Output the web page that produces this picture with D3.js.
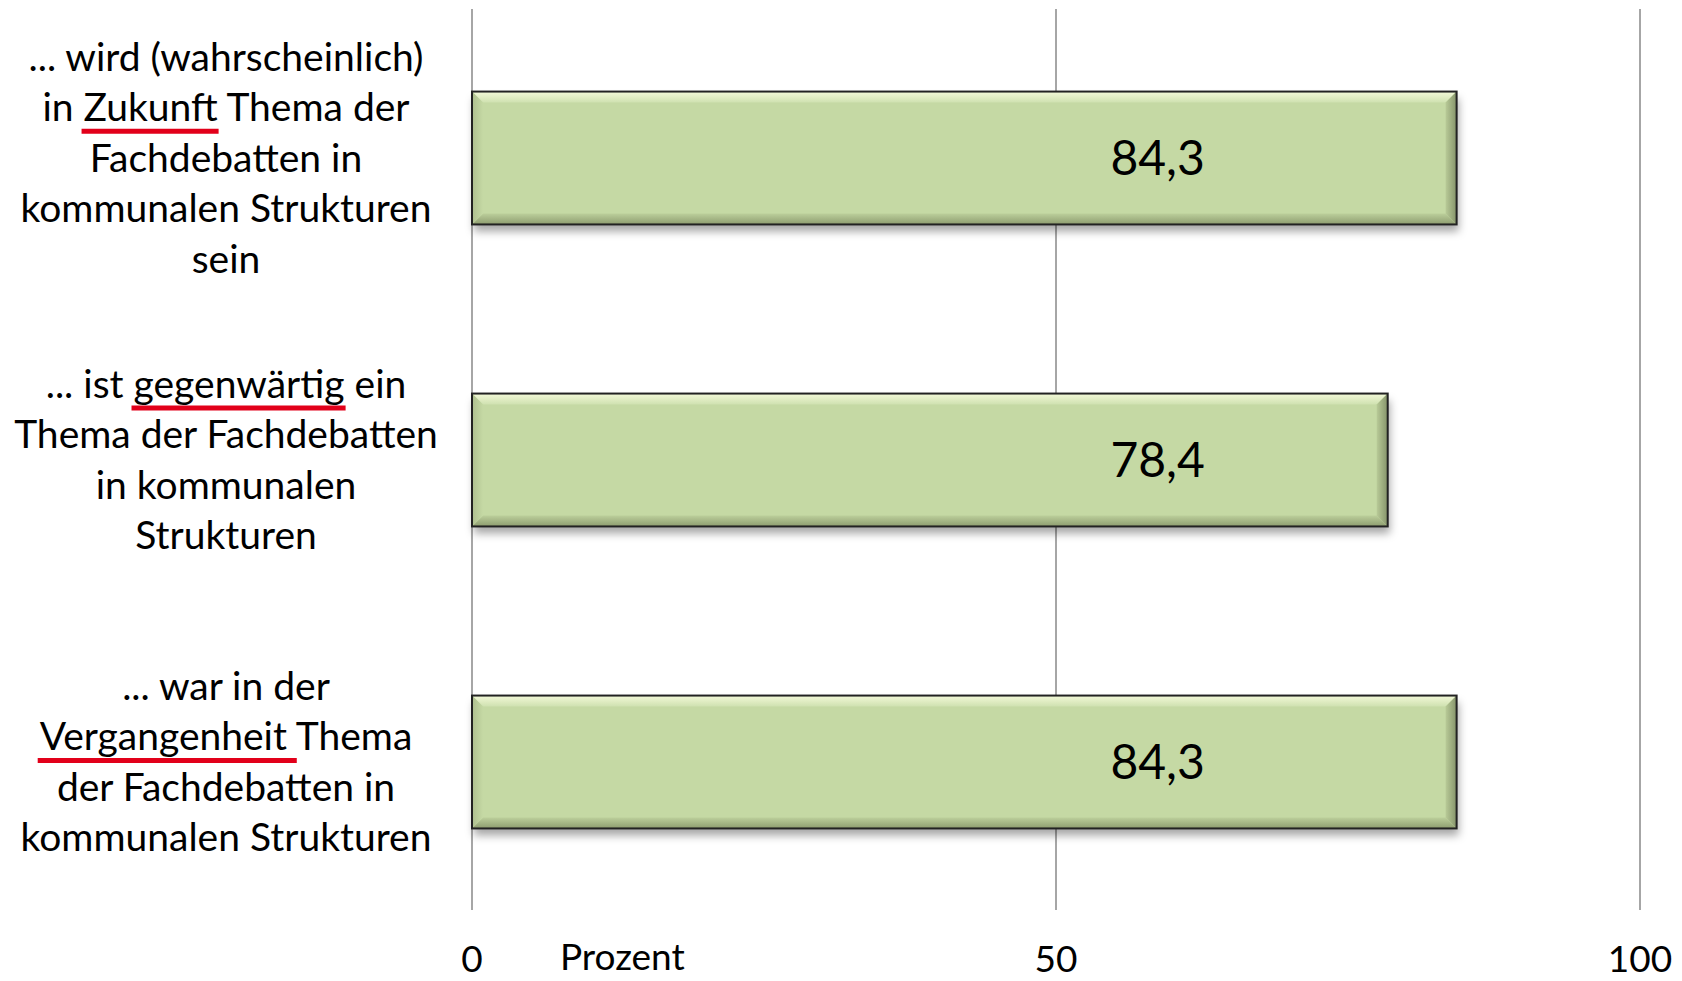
<!DOCTYPE html>
<html>
<head>
<meta charset="utf-8">
<script src="https://cdn.jsdelivr.net/npm/d3@7"></script>
<style>
  html, body { margin: 0; padding: 0; background: #ffffff; }
  svg { display: block; }
  text { font-family: Lato, "Open Sans", sans-serif; fill: #000; }
</style>
</head>
<body>
<svg id="chart" width="1682" height="981"></svg>
<script>
// ---- data ----
const categories = ["future", "present", "past"];
const categoryLines = [
  ["... wird (wahrscheinlich)", "in Zukunft Thema der", "Fachdebatten in", "kommunalen Strukturen", "sein"],
  ["... ist gegenwärtig ein", "Thema der Fachdebatten", "in kommunalen", "Strukturen"],
  ["... war in der", "Vergangenheit Thema", "der Fachdebatten in", "kommunalen Strukturen"]
];
const emphasis = [
  { line: 1, word: "Zukunft" },
  { line: 0, word: "gegenwärtig" },
  { line: 1, word: "Vergangenheit " }
];
const values = [84.3, 78.4, 84.3];
const valueLabels = ["84,3", "78,4", "84,3"];
const tickValues = [0, 50, 100];
const tickLabels = ["0", "50", "100"];
const axisTitle = "Prozent";

// ---- layout ----
const svg = d3.select("#chart");
const x = d3.scaleLinear().domain([0, 100]).range([472, 1640]);
const y = d3.scaleBand().domain(categories).range([7, 913]).paddingInner(0.56).paddingOuter(0.28);

const defs = svg.append("defs");
function lg(id, x1, y1, x2, y2, stops) {
  const g = defs.append("linearGradient").attr("id", id)
    .attr("x1", x1).attr("y1", y1).attr("x2", x2).attr("y2", y2);
  stops.forEach(s => g.append("stop").attr("offset", s[0]).attr("stop-color", s[1]));
}
lg("bvTop", 0, 0, 0, 1, [[0, "#f3f9d8"], [1, "#cfe1b0"]]);
lg("bvBot", 0, 0, 0, 1, [[0, "#bccf9b"], [1, "#8d9c6f"]]);
lg("bvRight", 0, 0, 1, 0, [[0, "#b8ca97"], [1, "#85936a"]]);
lg("bvLeft", 0, 0, 1, 0, [[0, "#aebf8f"], [1, "#c5d9a4"]]);
const sh = defs.append("filter").attr("id", "shadow")
  .attr("x", "-5%").attr("y", "-20%").attr("width", "110%").attr("height", "150%");
sh.append("feDropShadow").attr("dx", 2).attr("dy", 7).attr("stdDeviation", 4)
  .attr("flood-color", "#000").attr("flood-opacity", 0.35);

// gridlines
svg.append("g").selectAll("line").data(tickValues).join("line")
  .attr("x1", d => x(d)).attr("x2", d => x(d))
  .attr("y1", 9).attr("y2", 910)
  .attr("stroke", "#a6a6a6").attr("stroke-width", 1.2)
  .attr("shape-rendering", "crispEdges");

// bars
const bevel = 11;
const bars = svg.append("g").selectAll("g").data(categories).join("g");
bars.each(function(c, i) {
  const g = d3.select(this);
  const x0 = x(0), x1 = x(values[i]);
  const y0 = y(c), y1 = y(c) + y.bandwidth();
  g.append("rect").attr("x", x0).attr("y", y0).attr("width", x1 - x0).attr("height", y1 - y0)
    .attr("fill", "#c5d9a4").attr("filter", "url(#shadow)");
  const b = bevel;
  const poly = (pts, fill) => g.append("polygon").attr("points", pts.map(p => p.join(",")).join(" ")).attr("fill", fill);
  poly([[x0, y0], [x1, y0], [x1 - b, y0 + b], [x0 + b, y0 + b]], "url(#bvTop)");
  poly([[x0 + b, y1 - b], [x1 - b, y1 - b], [x1, y1], [x0, y1]], "url(#bvBot)");
  poly([[x1 - b, y0 + b], [x1, y0], [x1, y1], [x1 - b, y1 - b]], "url(#bvRight)");
  poly([[x0, y0], [x0 + b, y0 + b], [x0 + b, y1 - b], [x0, y1]], "url(#bvLeft)");
  g.append("rect").attr("x", x0).attr("y", y0).attr("width", x1 - x0).attr("height", y1 - y0)
    .attr("fill", "none").attr("stroke", "#222").attr("stroke-width", 2);
});

// value labels
svg.append("g").selectAll("text").data(categories).join("text")
  .attr("x", x(58.7))
  .attr("y", c => y(c) + y.bandwidth() / 2)
  .attr("dy", "0.36em")
  .attr("text-anchor", "middle")
  .style("font-size", "48px")
  .text((c, i) => valueLabels[i]);

// category labels
const lineH = 50.5;
const labelX = 226;
const fs = 39;
const catG = svg.append("g");
categories.forEach((c, i) => {
  const lines = categoryLines[i];
  const cy = y(c) + y.bandwidth() / 2;
  lines.forEach((ln, j) => {
    const ly = cy + (j - (lines.length - 1) / 2) * lineH;
    const t = catG.append("text")
      .attr("x", labelX)
      .attr("y", ly)
      .attr("dy", "0.35em")
      .attr("text-anchor", "middle")
      .style("font-size", fs + "px")
      .text(ln);
    const em = emphasis[i];
    if (em.line === j) {
      const node = t.node();
      const idx = ln.indexOf(em.word);
      const sx = node.getStartPositionOfChar(idx).x;
      const ex = node.getEndPositionOfChar(idx + em.word.length - 1).x;
      const by = ly + 0.35 * fs;
      catG.append("line")
        .attr("x1", sx - 2).attr("x2", ex + 1)
        .attr("y1", by + 10).attr("y2", by + 10)
        .attr("stroke", "#e2001a").attr("stroke-width", 5);
    }
  });
});

// axis tick labels
svg.append("g").selectAll("text").data(tickValues).join("text")
  .attr("x", d => x(d)).attr("y", 972)
  .attr("text-anchor", "middle")
  .style("font-size", "37px")
  .text((d, i) => tickLabels[i]);

svg.append("text").attr("x", 560).attr("y", 970)
  .style("font-size", "37px")
  .text(axisTitle);
</script>
</body>
</html>
